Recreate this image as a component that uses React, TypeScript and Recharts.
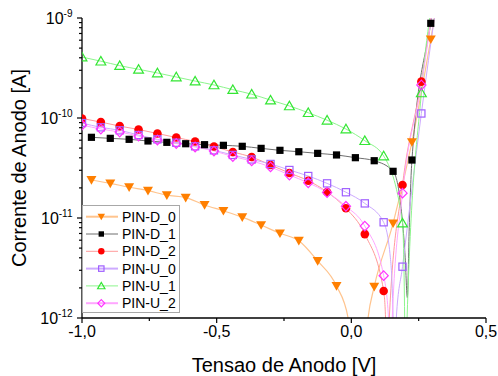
import React from 'react';
import { ComposedChart, Line, XAxis, YAxis } from 'recharts';

// ---------- data ----------
// voltages of the sampled points (two sample grids)
const vA = [-1.0, -0.93, -0.86, -0.79, -0.72, -0.65, -0.58, -0.51, -0.44, -0.37, -0.3, -0.23, -0.16, -0.09, -0.02, 0.05, 0.12, 0.19, 0.26];
const vB = [-0.965, -0.895, -0.825, -0.755, -0.685, -0.615, -0.545, -0.475, -0.405, -0.335, -0.265, -0.195, -0.125, -0.055, 0.015, 0.085, 0.155, 0.225, 0.295];

// PIN-D_0 (on vB)
const iD0 = [2.4e-11, 2.22e-11, 2.03e-11, 1.88e-11, 1.69e-11, 1.6e-11, 1.35e-11, 1.18e-11, 1.02e-11, 8.5e-12, 7.03e-12, 5.93e-12, 3.72e-12, 2.09e-12, 1e-14, 2.06e-12, 8.85e-12, 5.75e-11, 6.12e-10];
const curveD0: [number, number][] = [[-0.012, 1e-12], [0.062, 1e-12], [0.365, 8e-9]];

// PIN-D_1 (on vB)
const iD1 = [6.41e-11, 6.26e-11, 6.12e-11, 5.89e-11, 5.71e-11, 5.53e-11, 5.41e-11, 5.33e-11, 5.21e-11, 4.97e-11, 4.75e-11, 4.6e-11, 4.43e-11, 4.27e-11, 4.01e-11, 3.74e-11, 2.93e-11, 3.8e-11, 8.85e-10];
const curveD1: [number, number][] = [[0.18, 1.6e-11], [0.2, 4e-12], [0.208, 1.6e-12], [0.215, 8e-12], [0.365, 1e-8]];

// PIN-D_2 (on vA)
const iD2 = [9.9e-11, 9.1e-11, 8.3e-11, 7.67e-11, 7.0e-11, 6.38e-11, 5.82e-11, 5.19e-11, 4.57e-11, 4.07e-11, 3.39e-11, 2.82e-11, 2.36e-11, 1.82e-11, 1.25e-11, 6.9e-12, 1.86e-12, 2.14e-11, 2.31e-10];
const curveD2: [number, number][] = [[0.127, 1e-12], [0.134, 1e-14], [0.141, 1e-12], [0.33, 4.8e-9]];

// PIN-U_0 (on vA)
const iU0 = [8.9e-11, 8.07e-11, 7.53e-11, 6.76e-11, 6.12e-11, 5.66e-11, 5.21e-11, 4.75e-11, 4.27e-11, 3.85e-11, 3.47e-11, 3.02e-11, 2.63e-11, 2.22e-11, 1.81e-11, 1.4e-11, 9.06e-12, 3.26e-12, 1.11e-10];
const curveU0: [number, number][] = [[0.145, 4e-12], [0.155, 1e-12], [0.16, 1e-14], [0.167, 1e-12], [0.33, 2.6e-9]];

// PIN-U_1 (on vA)
const iU1 = [4.07e-10, 3.7e-10, 3.34e-10, 3.07e-10, 2.82e-10, 2.57e-10, 2.34e-10, 2.14e-10, 1.92e-10, 1.73e-10, 1.51e-10, 1.32e-10, 1.13e-10, 9.5e-11, 7.76e-11, 5.93e-11, 4.17e-11, 8.9e-12, 1.78e-10];
const curveU1: [number, number][] = [[0.198, 1e-12], [0.202, 1e-14], [0.207, 1e-12], [0.33, 3.2e-9]];

// PIN-U_2 (on vA)
const iU2 = [8.5e-11, 7.76e-11, 7.24e-11, 6.6e-11, 6.03e-11, 5.56e-11, 5.13e-11, 4.68e-11, 4.12e-11, 3.72e-11, 3.24e-11, 2.69e-11, 2.25e-11, 1.8e-11, 1.31e-11, 8.3e-12, 2.65e-12, 1.77e-11, 2.14e-10];
const curveU2: [number, number][] = [[0.138, 1e-12], [0.145, 1e-14], [0.152, 1e-12], [0.33, 4.3e-9]];

const xTicks = [-1, -0.75, -0.5, -0.25, 0, 0.25, 0.5];
const yDecades = [-12, -11, -10];
const yTicks: number[] = [];
yDecades.forEach((e) => {
  for (let m = 1; m <= 9; m++) yTicks.push(m * Math.pow(10, e));
});
yTicks.push(1e-9);

// ---------- helpers ----------
type Pt = { v: number; i: number; mk: boolean };
function build(vs: number[], is: number[], curve: [number, number][]): Pt[] {
  const pts: Pt[] = vs.map((v, k) => ({ v, i: is[k], mk: true }));
  curve.forEach(([v, i]) => pts.push({ v, i, mk: false }));
  return pts.sort((a, b) => a.v - b.v);
}

const FONT = '"Liberation Sans", Arial, Helvetica, sans-serif';

type Kind = 'tdown' | 'sqFill' | 'circle' | 'sqOpen' | 'tup' | 'diamond';

function Marker({ kind, cx, cy, color, s = 1 }: { kind: Kind; cx: number; cy: number; color: string; s?: number }) {
  switch (kind) {
    case 'tdown':
      return <polygon points={`${cx - 5 * s},${cy - 3.9 * s} ${cx + 5 * s},${cy - 3.9 * s} ${cx},${cy + 4.8 * s}`} fill={color} />;
    case 'sqFill':
      return <rect x={cx - 3.6 * s} y={cy - 3.6 * s} width={7.2 * s} height={7.2 * s} fill={color} />;
    case 'circle':
      return <circle cx={cx} cy={cy} r={4.3 * s} fill={color} />;
    case 'sqOpen':
      return <rect x={cx - 3.6 * s} y={cy - 3.6 * s} width={7.2 * s} height={7.2 * s} fill="#fff" fillOpacity={0} stroke={color} strokeWidth={1.2} />;
    case 'tup':
      return <polygon points={`${cx - 4.9 * s},${cy + 3.8 * s} ${cx + 4.9 * s},${cy + 3.8 * s} ${cx},${cy - 4.7 * s}`} fill="none" stroke={color} strokeWidth={1.2} />;
    case 'diamond':
      return <polygon points={`${cx},${cy - 4.8 * s} ${cx + 4.6 * s},${cy} ${cx},${cy + 4.8 * s} ${cx - 4.6 * s},${cy}`} fill="none" stroke={color} strokeWidth={1.2} />;
  }
  return null;
}

const series = [
  { name: 'PIN-D_0', data: build(vB, iD0, curveD0), line: '#FFC48E', lw: 1.2, legendLw: 2, kind: 'tdown' as Kind, color: '#FF7F00' },
  { name: 'PIN-D_1', data: build(vB, iD1, curveD1), line: '#6E6E6E', lw: 1, legendLw: 1, kind: 'sqFill' as Kind, color: '#000000' },
  { name: 'PIN-D_2', data: build(vA, iD2, curveD2), line: '#FF9A9A', lw: 1, legendLw: 1, kind: 'circle' as Kind, color: '#FF0000' },
  { name: 'PIN-U_0', data: build(vA, iU0, curveU0), line: '#CDAAFF', lw: 1, legendLw: 2, kind: 'sqOpen' as Kind, color: '#9F5FFF' },
  { name: 'PIN-U_1', data: build(vA, iU1, curveU1), line: '#8CF58C', lw: 1, legendLw: 1, kind: 'tup' as Kind, color: '#33E633' },
  { name: 'PIN-U_2', data: build(vA, iU2, curveU2), line: '#FFA6FF', lw: 1, legendLw: 2, kind: 'diamond' as Kind, color: '#FF33FF' },
];

const isMajorX = (v: number) => Math.abs(v * 2 - Math.round(v * 2)) < 1e-9;
const isMajorY = (v: number) => Math.abs(Math.log10(v) - Math.round(Math.log10(v))) < 1e-6;
const fmtX = (v: number) => v.toFixed(1).replace('.', ',');

const AX = '#000';

const BottomTick = (p: any) => {
  const { x, y, payload } = p;
  const v = payload.value;
  const major = isMajorX(v);
  return (
    <g>
      <line x1={x} y1={y} x2={x} y2={y + (major ? 5 : 3)} stroke={AX} strokeWidth={1.2} />
      {major && (
        <text x={x} y={y + 19} textAnchor="middle" fontSize={16} fontFamily={FONT} fill="#000">
          {fmtX(v)}
        </text>
      )}
    </g>
  );
};
const TopTick = (p: any) => {
  const { x, y, payload } = p;
  const major = isMajorX(payload.value);
  return <line x1={x} y1={y} x2={x} y2={y + (major ? 5 : 3)} stroke={AX} strokeWidth={1.2} />;
};
const LeftTick = (p: any) => {
  const { x, y, payload } = p;
  const v = payload.value;
  const major = isMajorY(v);
  return (
    <g>
      <line x1={x} y1={y} x2={x - (major ? 5 : 3)} y2={y} stroke={AX} strokeWidth={1.2} />
      {major && (
        <text x={x - 9.5} y={y + 6} textAnchor="end" fontFamily={FONT} fill="#000">
          <tspan fontSize={16}>10</tspan>
          <tspan fontSize={10} dy={-7}>{String(Math.round(Math.log10(v)))}</tspan>
        </text>
      )}
    </g>
  );
};
const RightTick = (p: any) => {
  const { x, y, payload } = p;
  const major = isMajorY(payload.value);
  return <line x1={x} y1={y} x2={x - (major ? 5 : 3)} y2={y} stroke={AX} strokeWidth={1.2} />;
};

function Legend() {
  const rowY = [11.7, 29, 46.3, 63.6, 80.9, 98.2];
  return (
    <div
      style={{
        position: 'absolute',
        left: 82,
        top: 205,
        width: 98,
        height: 108,
        border: '1px solid #A8A8A8',
        background: '#fff',
        boxSizing: 'border-box',
      }}
    >
      <svg width={98} height={108} style={{ position: 'absolute', left: -1, top: -1 }}>
        {series.map((s, k) => (
          <g key={s.name}>
            <line x1={4} x2={36} y1={rowY[k]} y2={rowY[k]} stroke={s.line} strokeWidth={s.legendLw} />
            <Marker kind={s.kind} cx={19.3} cy={rowY[k]} color={s.color} s={0.75} />
            <text x={40} y={rowY[k] + 5} fontSize={14} fontFamily={FONT} fill="#000">
              {s.name}
            </text>
          </g>
        ))}
      </svg>
    </div>
  );
}

export default function App() {
  return (
    <div style={{ position: 'absolute', left: 0, top: 0, width: 498, height: 376, background: '#fff' }}>
      <ComposedChart width={498} height={376} margin={{ top: 18, right: 12, bottom: 0, left: 0 }}>
        <XAxis
          xAxisId="b"
          dataKey="v"
          type="number"
          domain={[-1, 0.5]}
          allowDataOverflow
          ticks={xTicks}
          interval={0}
          tickSize={0}
          tickMargin={0}
          tickLine={false}
          tick={BottomTick}
          axisLine={{ stroke: AX, strokeWidth: 1.3 }}
          height={58}
          label={{ value: 'Tensao de Anodo [V]', position: 'insideBottom', offset: 4.5, style: { fontSize: 20, fontFamily: FONT, fill: '#000' } }}
        />
        <XAxis
          xAxisId="t"
          orientation="top"
          dataKey="v"
          type="number"
          domain={[-1, 0.5]}
          allowDataOverflow
          ticks={xTicks}
          interval={0}
          tickSize={0}
          tickMargin={0}
          tickLine={false}
          tick={TopTick}
          axisLine={{ stroke: AX, strokeWidth: 1.3 }}
          height={0}
        />
        <YAxis
          yAxisId="l"
          dataKey="i"
          type="number"
          scale="log"
          domain={[1e-12, 1e-9]}
          allowDataOverflow
          ticks={yTicks}
          interval={0}
          tickSize={0}
          tickMargin={0}
          tickLine={false}
          tick={LeftTick}
          axisLine={{ stroke: AX, strokeWidth: 1.3 }}
          width={82}
          label={{ value: 'Corrente de Anodo [A]', angle: -90, position: 'insideLeft', offset: 19, style: { fontSize: 20, fontFamily: FONT, fill: '#000', textAnchor: 'middle' } }}
        />
        <YAxis
          yAxisId="r"
          orientation="right"
          dataKey="i"
          type="number"
          scale="log"
          domain={[1e-12, 1e-9]}
          allowDataOverflow
          ticks={yTicks}
          interval={0}
          tickSize={0}
          tickMargin={0}
          tickLine={false}
          tick={RightTick}
          axisLine={{ stroke: AX, strokeWidth: 1.3 }}
          width={0}
        />
        {series.map((s) => (
          <Line
            key={s.name}
            xAxisId="b"
            yAxisId="l"
            data={s.data}
            dataKey="i"
            type="monotoneX"
            stroke={s.line}
            strokeWidth={s.lw}
            isAnimationActive={false}
            activeDot={false}
            dot={(p: any) =>
              p.payload.mk ? (
                <g key={p.key ?? `${s.name}-${p.index}`}>
                  <Marker kind={s.kind} cx={p.cx} cy={p.cy} color={s.color} />
                </g>
              ) : (
                <g key={p.key ?? `${s.name}-${p.index}`} />
              )
            }
          />
        ))}
      </ComposedChart>
      <Legend />
    </div>
  );
}
